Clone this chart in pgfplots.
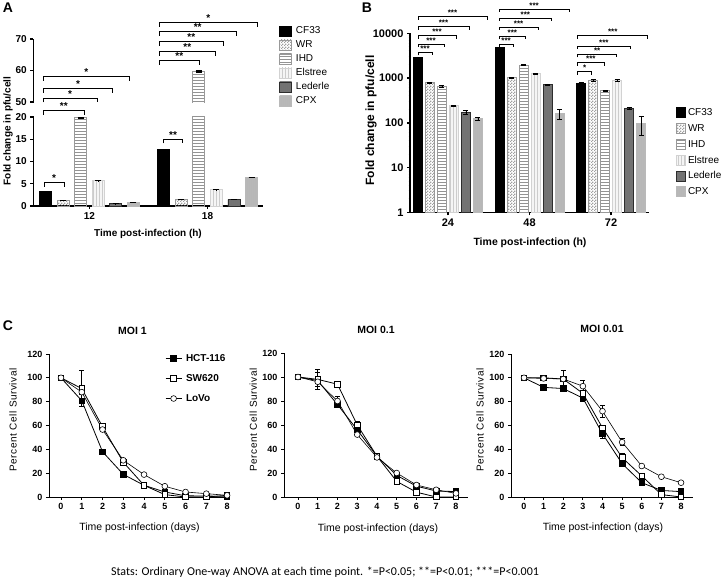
\documentclass[border=0pt]{standalone}
\usepackage{fontspec}
\setmainfont{Liberation Sans}
\newfontfamily\calibri{Carlito}
\newfontfamily\lsp[LetterSpace=6]{Liberation Sans}
\usepackage{pgfplots}
\pgfplotsset{compat=1.18}
\usetikzlibrary{patterns}

\pgfdeclarepatternformonly{finechecker}{\pgfpointorigin}{\pgfpoint{2.6pt}{2.6pt}}{\pgfpoint{2.6pt}{2.6pt}}%
{\pgfpathrectangle{\pgfpointorigin}{\pgfpoint{1.3pt}{1.3pt}}%
 \pgfpathrectangle{\pgfpoint{1.3pt}{1.3pt}}{\pgfpoint{1.3pt}{1.3pt}}\pgfusepath{fill}}
\pgfdeclarepatternformonly{finecross}{\pgfpoint{-0.2pt}{-0.2pt}}{\pgfpoint{2.2pt}{2.2pt}}{\pgfpoint{2pt}{2pt}}%
{\pgfsetlinewidth{0.45pt}\pgfpathmoveto{\pgfpoint{0pt}{0pt}}\pgfpathlineto{\pgfpoint{2pt}{2pt}}%
 \pgfpathmoveto{\pgfpoint{0pt}{2pt}}\pgfpathlineto{\pgfpoint{2pt}{0pt}}\pgfusepath{stroke}}

\pgfplotsset{
  prism/.style={scale only axis, tick align=outside, major tick length=3pt,
    /pgf/number format/assume math mode=true, tick style={black}},
  cf/.style={fill=black, draw=black, line width=0.8pt},
  wr/.style={draw=gray!80, line width=0.8pt, pattern=finechecker, pattern color=gray!75},
  ihd/.style={draw=gray!80, line width=0.8pt, pattern=horizontal lines, pattern color=gray!85},
  els/.style={draw=gray!35, line width=0.8pt, fill=gray!8, postaction={pattern=vertical lines, pattern color=gray!40}},
  led/.style={draw=gray!35!black, line width=0.8pt, fill=gray!55, postaction={pattern=finecross, pattern color=black!60}},
  cpx/.style={draw=gray!55, line width=0.8pt, fill=gray!28, postaction={pattern=finecross, pattern color=gray!60}},
  ebA/.style={error bars/y dir=both, error bars/y explicit,
    error bars/error bar style={line width=1.1pt, black, solid},
    error bars/error mark options={rotate=90, line width=1.1pt, black, mark size=3pt}},
  ebB/.style={error bars/y dir=both, error bars/y explicit,
    error bars/error bar style={line width=0.9pt, black, solid},
    error bars/error mark options={rotate=90, line width=0.9pt, black, mark size=2.5pt}},
  ebC/.style={error bars/y dir=both, error bars/y explicit,
    error bars/error bar style={line width=0.7pt, black, solid},
    error bars/error mark options={rotate=90, line width=0.7pt, black, mark size=2.5pt}},
  hct/.style={black, line width=0.8pt, mark=square*, mark size=2.8pt, mark options={fill=black, solid}, ebC},
  sw/.style={black, line width=0.8pt, mark=square*, mark size=2.8pt, mark options={fill=white, solid}, ebC},
  lovo/.style={black, line width=0.6pt, mark=*, mark size=2.9pt, mark options={fill=white, solid}, ebC},
  survival/.style={prism, axis lines*=left, axis line style={line width=0.9pt}, tick style={line width=0.9pt},
    ymin=0, ymax=120, ytick={0,20,...,120}, xtick={0,...,8},
    ticklabel style={font=\bfseries\fontsize{9}{10}\selectfont}, clip=false},
}

\newcommand{\brk}[4]{%
  \draw[line width=0.9pt] ({#1pt},{(581-#3)*1pt}) |- ({#2pt},{(585-#3)*1pt}) -- ({#2pt},{(581-#3)*1pt});
  \node[font=\bfseries\fontsize{10}{10}\selectfont, inner sep=0pt, anchor=south] at ({(#1+#2)/2*1pt},{(585.5-#3)*1pt}) {#4};}
\newcommand{\brkb}[4]{%
  \draw[line width=0.8pt] ({#1pt},{(582-#3)*1pt}) |- ({#2pt},{(585-#3)*1pt}) -- ({#2pt},{(582-#3)*1pt});
  \node[font=\bfseries\fontsize{8}{8}\selectfont, inner sep=0pt, anchor=south] at ({(#1+#2)/2*1pt},{(585.5-#3)*1pt}) {#4};}

\begin{document}
\begin{tikzpicture}[x=1pt,y=1pt]
\path[use as bounding box, fill=white] (0,0) rectangle (723,585);

% ---------------- Panel A : broken y axis (0-20 and 50-70) ----------------
\begin{axis}[prism, at={(33.3pt,379pt)}, anchor=south west, width=229.7pt, height=167pt,
  axis lines*=left, axis line style={line width=1.3pt}, tick style={line width=1.3pt},
  y coord trafo/.code={\pgfmathparse{#1<=35 ? 4.45*#1 : 104+3.15*(#1-50)}},
  y coord inv trafo/.code={\pgfmathparse{#1<=96.6 ? #1/4.45 : 50+(#1-104)/3.15}},
  xmin=-0.476, xmax=1.470, ymin=0, ymax=70, clip=false,
  ybar=5.6pt, bar width=12pt,
  xtick={0,1}, xticklabels={12,18},
  ytick={0,5,10,15,20,50,60,70}, yticklabels={0,5,10,15,20,50,60,70},
  ticklabel style={font=\bfseries\fontsize{10}{12}\selectfont},
  legend image code/.code={\draw[#1] (0pt,-5pt) rectangle (12pt,5pt); \path (15pt,0pt);},
  legend style={at={(axis description cs:1.0696,1.084)}, anchor=north west, draw=none, fill=none,
    inner sep=0pt, row sep=2.5pt, font=\fontsize{10}{12}\selectfont,
    nodes={inner sep=1pt, text height=7.5pt, text depth=2pt}},
  legend cell align=left]
\addplot[cf, ebA] coordinates {(0,3.3) +- (0,0.1) (1,12.7) +- (0,0.15)};
\addplot[wr, ebA] coordinates {(0,1.3) +- (0,0.15) (1,1.5) +- (0,0.15)};
\addplot[ihd, ebA] coordinates {(0,19.8) +- (0,0.15) (1,59.6) +- (0,0.75)};
\addplot[els, ebA] coordinates {(0,5.7) +- (0,0.2) (1,3.7) +- (0,0.1)};
\addplot[led, ebA] coordinates {(0,0.55) +- (0,0.05) (1,1.5) +- (0,0.15)};
\addplot[cpx, ebA] coordinates {(0,0.8) +- (0,0.05) (1,6.35) +- (0,0)};
\legend{CF33,WR,IHD,Elstree,Lederle,CPX}
% axis break between 20 and 50
\fill[white] ([xshift=-3pt]axis cs:-0.476,20.25) rectangle (axis cs:1.47,49.75);
\end{axis}

% ---------------- Panel B ----------------
\begin{axis}[prism, at={(410pt,372.5pt)}, anchor=south west, width=239pt, height=179.2pt,
  axis lines*=left, axis line style={line width=1.3pt}, tick style={line width=1.3pt},
  ymode=log, ymin=1, ymax=10000, xmin=-0.466, xmax=2.466,
  ybar=3pt, bar width=9pt,
  xtick={0,1,2}, xticklabels={24,48,72},
  ytick={1,10,100,1000,10000}, yticklabels={1,10,100,1000,10000},
  minor tick length=1.5pt,
  ticklabel style={font=\bfseries\fontsize{11}{12}\selectfont},
  legend image code/.code={\draw[#1] (0pt,-5pt) rectangle (9pt,5pt); \path (10pt,0pt);},
  legend style={at={(axis description cs:1.113,0.592)}, anchor=north west, draw=none, fill=none,
    inner sep=0pt, row sep=3.3pt, font=\fontsize{10}{12}\selectfont,
    nodes={inner sep=1pt, text height=8pt, text depth=2.5pt}},
  legend cell align=left]
\addplot[cf, ebB] coordinates {(0,2880) +- (0,80) (1,4770) +- (0,120) (2,773) +- (0,15)};
\addplot[wr, ebB] coordinates {(0,785) +- (0,25) (1,1010) +- (0,30) (2,870) +- (0,40)};
\addplot[ihd, ebB] coordinates {(0,648) +- (0,20) (1,1950) +- (0,50) (2,520) +- (0,15)};
\addplot[els, ebB] coordinates {(0,240) +- (0,8) (1,1250) +- (0,35) (2,885) +- (0,25)};
\addplot[led, ebB] coordinates {(0,174) +- (0,18) (1,720) +- (0,20) (2,206) +- (0,10)};
\addplot[cpx, ebB] coordinates {(0,124) +- (0,10) (1,160) +- (0,42) (2,96) +- (0,44)};
\legend{CF33,WR,IHD,Elstree,Lederle,CPX}
\end{axis}

% ---------------- Panel C : MOI 1 ----------------
\begin{axis}[survival, at={(49pt,88pt)}, anchor=south west, width=181pt, height=143pt,
  xmin=-0.578, xmax=8.14,
  legend image code/.code={\draw[mark repeat=2,mark phase=2,#1] plot coordinates {(0pt,0pt) (8pt,0pt) (16pt,0pt)}; \path (19pt,0pt);},
  legend style={at={(axis description cs:0.641,1.01)}, anchor=north west, draw=none, fill=none,
    inner sep=0pt, row sep=8.5pt, font=\bfseries\fontsize{10}{12}\selectfont,
    nodes={inner sep=1pt, text height=7.5pt, text depth=2pt}},
  legend cell align=left]
\addplot[hct] coordinates {(0,100) (1,80.8) +- (0,5) (2,38) +- (0,2) (3,19) (4,9.8) (5,4.2) (6,1) (7,0.8) (8,0.5)};
\addplot[sw] coordinates {(0,100) (1,91) +- (0,15) (2,59) +- (0,2) (3,29.2) (4,9.8) (5,2) (6,0) (7,0) (8,1.4)};
\addplot[lovo] coordinates {(0,100) (1,88) (2,56.6) (3,30.8) (4,18.8) (5,9) (6,4.2) (7,2.8) (8,1.4)};
\legend{HCT-116,SW620,LoVo}
\end{axis}

% ---------------- Panel C : MOI 0.1 ----------------
\begin{axis}[survival, at={(284pt,88pt)}, anchor=south west, width=184pt, height=144pt,
  xmin=-0.709, xmax=8.61]
\addplot[hct] coordinates {(0,100) (1,97) +- (0,7) (2,77) (3,56) +- (0,3) (4,34) (5,18) (6,9) (7,5) (8,4.5)};
\addplot[sw] coordinates {(0,100) (1,98) +- (0,8) (2,94) +- (0,2) (3,60) +- (0,3) (4,34) (5,13) +- (0,2) (6,4) (7,0) (8,0)};
\addplot[lovo] coordinates {(0,100) (1,96) +- (0,4) (2,80) +- (0,4) (3,52) (4,33) (5,20) (6,10) (7,6) (8,3)};
\end{axis}

% ---------------- Panel C : MOI 0.01 ----------------
\begin{axis}[survival, at={(511pt,88pt)}, anchor=south west, width=182pt, height=143pt,
  xmin=-0.662, xmax=8.61]
\addplot[hct] coordinates {(0,100) (1,92) (2,91) (3,83) +- (0,3) (4,53) +- (0,4) (5,28) (6,12) (7,5.5) (8,4.5)};
\addplot[sw] coordinates {(0,100) (1,100) +- (0,2) (2,99) +- (0,7) (3,87) (4,58) (5,33) +- (0,4) (6,17.7) (7,2) (8,0)};
\addplot[lovo] coordinates {(0,100) (1,99.5) (2,99) (3,93) +- (0,5) (4,72) +- (0,5) (5,46) +- (0,3) (6,26) (7,17) (8,12)};
\end{axis}

% ---------------- significance brackets A ----------------
\brk{44.3}{64}{182.7}{*}
\brk{43.3}{84.3}{110.7}{**}
\brk{43.3}{97}{98.3}{*}
\brk{43.3}{112.7}{88.7}{*}
\brk{43.3}{129.3}{76.7}{*}
\brk{163.3}{182.7}{139.3}{**}
\brk{159.3}{199.3}{60.7}{**}
\brk{159.3}{215.3}{51.7}{**}
\brk{159.3}{223.3}{41.7}{**}
\brk{159.3}{236}{31.7}{**}
\brk{159.3}{257.3}{22.7}{*}
% ---------------- significance brackets B ----------------
\brkb{418}{432}{52.3}{***}
\brkb{418}{444}{44}{***}
\brkb{418}{456}{35.7}{***}
\brkb{418}{469}{26.7}{***}
\brkb{418}{487}{16.7}{***}
\brkb{499}{513.3}{44.5}{***}
\brkb{499}{525.7}{36}{***}
\brkb{499}{538.3}{27}{***}
\brkb{499}{551.7}{18}{***}
\brkb{499}{569.3}{9}{***}
\brkb{577.7}{591.7}{71.7}{*}
\brkb{577.7}{604}{62.7}{***}
\brkb{577.7}{616.7}{54.3}{**}
\brkb{577.7}{630}{46}{***}
\brkb{577.7}{647.7}{35.7}{***}

% ---------------- texts ----------------
\node[font=\bfseries\fontsize{14}{14}\selectfont] at (8,577) {A};
\node[font=\bfseries\fontsize{14}{14}\selectfont] at (367,577) {B};
\node[font=\bfseries\fontsize{14}{14}\selectfont] at (8,259) {C};
\node[font=\bfseries\fontsize{10}{12}\selectfont, rotate=90] at (8,454) {Fold change in pfu/cell};
\node[font=\bfseries\fontsize{10}{12}\selectfont] at (148,351.3) {Time post-infection (h)};
\node[font=\bfseries\fontsize{12}{14}\selectfont, rotate=90] at (371,464.5) {Fold change in pfu/cell};
\node[font=\bfseries\fontsize{10.5}{12}\selectfont] at (530,342.5) {Time post-infection (h)};
\node[font=\bfseries\fontsize{10.5}{12}\selectfont] at (132.5,254) {MOI 1};
\node[font=\bfseries\fontsize{10.5}{12}\selectfont] at (376,255) {MOI 0.1};
\node[font=\bfseries\fontsize{10.5}{12}\selectfont] at (602,256) {MOI 0.01};
\node[font=\lsp\fontsize{10}{12}\selectfont, rotate=90] at (13,165) {Percent Cell Survival};
\node[font=\lsp\fontsize{10}{12}\selectfont, rotate=90] at (253.3,165) {Percent Cell Survival};
\node[font=\lsp\fontsize{10}{12}\selectfont, rotate=90] at (480,165) {Percent Cell Survival};
\node[font=\fontsize{10.5}{12}\selectfont] at (139.5,57) {Time post-infection (days)};
\node[font=\fontsize{10.5}{12}\selectfont] at (378,56.5) {Time post-infection (days)};
\node[font=\fontsize{10.5}{12}\selectfont] at (603,57) {Time post-infection (days)};
\node[font=\calibri\fontsize{12}{14}\selectfont] at (325,13) {Stats: Ordinary One-way ANOVA at each time point. *=P<0.05; **=P<0.01; ***=P<0.001};
\end{tikzpicture}
\end{document}
